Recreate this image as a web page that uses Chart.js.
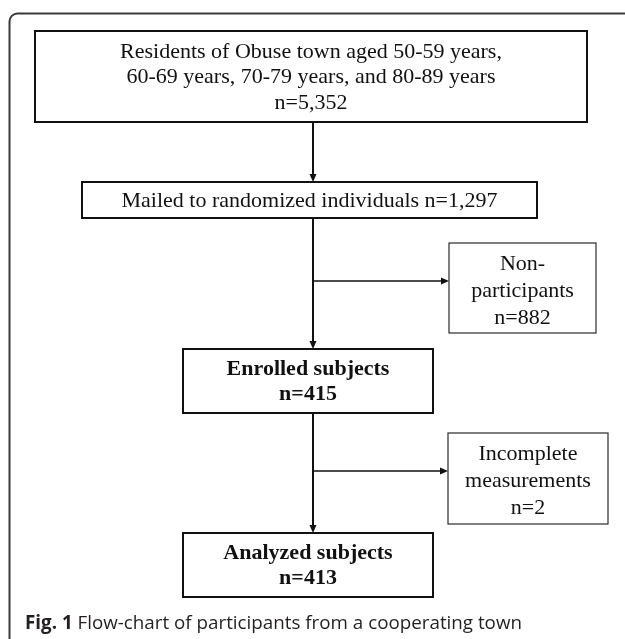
<!DOCTYPE html>
<html>
<head>
<meta charset="utf-8">
<script src="https://cdn.jsdelivr.net/npm/chart.js"></script>
<style>
  html, body { margin: 0; padding: 0; background: #fff; }
  #wrap { width: 625px; height: 639px; }
</style>
</head>
<body>
<div id="wrap"><canvas id="flow"></canvas></div>
<script>
// flow data
const stages = [
  "Residents of Obuse town aged 50-59 years,\n60-69 years, 70-79 years, and 80-89 years",
  "Mailed to randomized individuals",
  "Enrolled subjects",
  "Analyzed subjects"
];
const stageCounts = [5352, 1297, 415, 413];
const exclusions = ["Non-\nparticipants", "Incomplete\nmeasurements"];
const exclusionCounts = [882, 2];
const captionLabel = "Fig. 1";
const captionText = " Flow-chart of participants from a cooperating town";

// layout (in scale units, which map 1:1 onto the canvas)
const stageBoxes = [
  { x0: 35, x1: 587, y0: 31, y1: 122, bold: false, inline: false },
  { x0: 82, x1: 537, y0: 182, y1: 218, bold: false, inline: true },
  { x0: 183, x1: 433, y0: 349, y1: 413, bold: true, inline: false },
  { x0: 183, x1: 433, y0: 533, y1: 597, bold: true, inline: false }
];
const exclusionBoxes = [
  { x0: 449, x1: 596, y0: 243, y1: 333, branchY: 281 },
  { x0: 448, x1: 608, y0: 433, y1: 524, branchY: 471 }
];
const spineX = 313;

const fmt = n => "n=" + n.toLocaleString("en-US");

function arrowHead(ctx, x, y, dir) {
  ctx.beginPath();
  if (dir === "down") {
    ctx.moveTo(x, y);
    ctx.lineTo(x - 3.5, y - 8);
    ctx.lineTo(x + 3.5, y - 8);
  } else {
    ctx.moveTo(x, y);
    ctx.lineTo(x - 8, y - 3.5);
    ctx.lineTo(x - 8, y + 3.5);
  }
  ctx.closePath();
  ctx.fill();
}

function textLines(ctx, lines, cx, cy, lh) {
  const top = cy - (lines.length - 1) * lh / 2;
  lines.forEach((l, i) => ctx.fillText(l, cx, top + i * lh));
}

const flowPlugin = {
  id: "flow",
  afterDraw(chart) {
    const ctx = chart.ctx;
    const X = v => chart.scales.x.getPixelForValue(v);
    const Y = v => chart.scales.y.getPixelForValue(v);
    ctx.save();

    // outer frame (open on the right and bottom)
    ctx.strokeStyle = "#3a3a3a";
    ctx.lineWidth = 2;
    ctx.beginPath();
    ctx.moveTo(X(9.5), Y(639));
    ctx.lineTo(X(9.5), Y(22));
    ctx.arcTo(X(9.5), Y(13.5), X(18), Y(13.5), 8);
    ctx.lineTo(X(625), Y(13.5));
    ctx.stroke();

    // main stage boxes
    ctx.fillStyle = "#111";
    ctx.strokeStyle = "#111";
    ctx.textAlign = "center";
    ctx.textBaseline = "middle";
    stageBoxes.forEach((b, i) => {
      ctx.lineWidth = 2;
      ctx.strokeRect(X(b.x0), Y(b.y0), X(b.x1) - X(b.x0), Y(b.y1) - Y(b.y0));
      ctx.font = (b.bold ? "bold " : "") + "22px 'Liberation Serif'";
      const cx = (X(b.x0) + X(b.x1)) / 2;
      const cy = (Y(b.y0) + Y(b.y1)) / 2;
      const lines = b.inline
        ? [stages[i] + " " + fmt(stageCounts[i])]
        : stages[i].split("\n").concat([fmt(stageCounts[i])]);
      textLines(ctx, lines, cx, cy + 1, 25.5);
    });

    // spine connectors between stages
    ctx.lineWidth = 2;
    for (let i = 0; i < stageBoxes.length - 1; i++) {
      const yA = Y(stageBoxes[i].y1), yB = Y(stageBoxes[i + 1].y0);
      ctx.beginPath();
      ctx.moveTo(X(spineX), yA);
      ctx.lineTo(X(spineX), yB - 6);
      ctx.stroke();
      arrowHead(ctx, X(spineX), yB, "down");
    }

    // exclusion boxes with branches
    exclusionBoxes.forEach((b, i) => {
      ctx.strokeStyle = "#2a2a2a";
      ctx.lineWidth = 1.2;
      ctx.strokeRect(X(b.x0), Y(b.y0), X(b.x1) - X(b.x0), Y(b.y1) - Y(b.y0));
      ctx.strokeStyle = "#111";
      ctx.lineWidth = 1.6;
      ctx.beginPath();
      ctx.moveTo(X(spineX), Y(b.branchY));
      ctx.lineTo(X(b.x0) - 6, Y(b.branchY));
      ctx.stroke();
      arrowHead(ctx, X(b.x0), Y(b.branchY), "right");
      ctx.font = "22px 'Liberation Serif'";
      const cx = (X(b.x0) + X(b.x1)) / 2;
      const cy = (Y(b.y0) + Y(b.y1)) / 2;
      textLines(ctx, exclusions[i].split("\n").concat([fmt(exclusionCounts[i])]), cx, cy + 3, 27);
    });

    // caption
    ctx.textAlign = "left";
    ctx.textBaseline = "alphabetic";
    ctx.fillStyle = "#231f20";
    ctx.font = "bold 18.8px 'Open Sans'";
    ctx.fillText(captionLabel, X(25), Y(629));
    const w = ctx.measureText(captionLabel).width;
    ctx.font = "18.8px 'Open Sans'";
    ctx.fillText(captionText, X(25) + w, Y(629));
    ctx.restore();
  }
};

new Chart(document.getElementById("flow"), {
  type: "scatter",
  data: { datasets: [{ data: [], pointRadius: 0 }] },
  options: {
    responsive: true,
    maintainAspectRatio: false,
    animation: false,
    devicePixelRatio: 1,
    layout: { padding: 0 },
    plugins: { legend: { display: false }, tooltip: { enabled: false } },
    scales: {
      x: { type: "linear", min: 0, max: 625, display: false },
      y: { type: "linear", min: 0, max: 639, reverse: true, display: false }
    }
  },
  plugins: [flowPlugin]
});
</script>
</body>
</html>
